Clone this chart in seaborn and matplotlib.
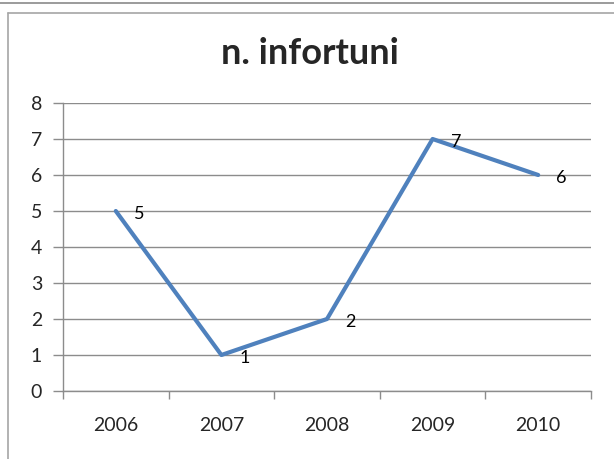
import pandas as pd
import matplotlib.pyplot as plt
import seaborn as sns
from matplotlib.lines import Line2D

anni = ['2006', '2007', '2008', '2009', '2010']
infortuni = [5, 1, 2, 7, 6]

df = pd.DataFrame({'anno': anni, 'infortuni': infortuni})

sns.set_style('white')
plt.rcParams['font.family'] = ['Lato', 'DejaVu Sans']

fig = plt.figure(figsize=(6.14, 4.59), dpi=100)
ax = fig.add_axes([63 / 614, 1 - 391 / 459, (591 - 63) / 614, (391 - 103) / 459])

sns.lineplot(data=df, x='anno', y='infortuni', ax=ax, color='#4F81BD', linewidth=3)

for i, v in enumerate(infortuni):
    ax.annotate(str(v), (i, v), xytext=(13, -2), textcoords='offset points',
                ha='left', va='center', fontsize=13, color='black')

ax.set_xlim(-0.5, len(anni) - 0.5)
ax.set_ylim(0, 8)
ax.set_yticks(range(0, 9))
ax.yaxis.grid(True, color='#8c8c8c', linewidth=1)
ax.set_axisbelow(True)

ax.set_xticks([i - 0.5 for i in range(len(anni) + 1)])
ax.set_xticklabels([])
ax.set_xticks(range(len(anni)), minor=True)
ax.set_xticklabels(anni, minor=True)
ax.tick_params(axis='x', which='major', length=6, width=1, color='#8c8c8c', direction='out')
ax.tick_params(axis='x', which='minor', length=0, pad=19, labelsize=14)
ax.tick_params(axis='y', length=7, width=1, color='#8c8c8c', direction='out', labelsize=14, pad=8)
ax.tick_params(axis='both', bottom=True, left=True, which='both')
ax.tick_params(axis='x', which='minor', bottom=False)

ax.set_xlabel('')
ax.set_ylabel('')
for s in ['top', 'right']:
    ax.spines[s].set_visible(False)
for s in ['left', 'bottom']:
    ax.spines[s].set_color('#8c8c8c')
    ax.spines[s].set_linewidth(1)

fig.text(310 / 614, 1 - 53 / 459, 'n. infortuni', ha='center', va='center',
         fontsize=26, fontweight='bold')

# chart frame
fig.add_artist(Line2D([0, 1], [1 - 3 / 459, 1 - 3 / 459], transform=fig.transFigure,
                      color='#8a8a8a', linewidth=1.2))
fig.add_artist(Line2D([8 / 614, 1], [1 - 13 / 459, 1 - 13 / 459], transform=fig.transFigure,
                      color='#a6a6a6', linewidth=1.2))
fig.add_artist(Line2D([8 / 614, 8 / 614], [0, 1 - 13 / 459], transform=fig.transFigure,
                      color='#a6a6a6', linewidth=1.2))

fig.savefig('out.png', dpi=100)
